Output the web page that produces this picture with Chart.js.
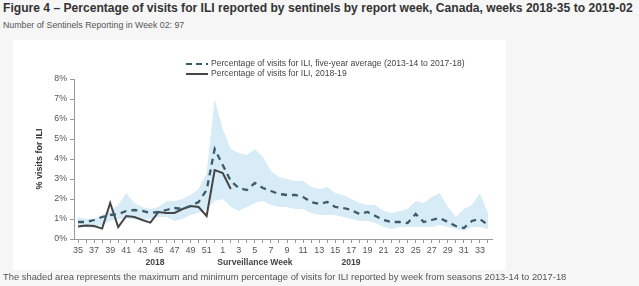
<!DOCTYPE html>
<html>
<head>
<meta charset="utf-8">
<script src="https://cdn.jsdelivr.net/npm/chart.js@4/dist/chart.umd.min.js"></script>
<style>
  body { margin: 0; width: 639px; height: 286px; background: #f6f6f6; font-family: "Liberation Sans", Arial, sans-serif; position: relative; overflow: hidden; }
  #title { position: absolute; left: 3px; top: 1px; font-size: 12.1px; font-weight: bold; color: #333; white-space: nowrap; }
  #sub { position: absolute; left: 3px; top: 20px; font-size: 8.8px; color: #555; white-space: nowrap; }
  #panel { position: absolute; left: 13px; top: 40px; width: 493px; height: 230px; background: #fff; }
  #legend { position: absolute; left: 186px; top: 58px; font-size: 8.6px; color: #444; line-height: 10px; }
  #legend div { white-space: nowrap; }
  #legend svg { vertical-align: middle; margin-right: 3px; }
  .xl { position: absolute; top: 257px; font-size: 8.6px; font-weight: bold; color: #444; white-space: nowrap; transform: translateX(-50%); }
  #caption { position: absolute; left: 3px; top: 271px; font-size: 9.4px; color: #555; white-space: nowrap; }
</style>
</head>
<body>
<div id="title">Figure 4 – Percentage of visits for ILI reported by sentinels by report week, Canada, weeks 2018-35 to 2019-02</div>
<div id="sub">Number of Sentinels Reporting in Week 02: 97</div>
<div id="panel"><canvas id="myChart" width="493" height="230"></canvas></div>
<div id="legend"></div>
<div class="xl" style="left:155px">2018</div>
<div class="xl" style="left:255px">Surveillance Week</div>
<div class="xl" style="left:351px">2019</div>
<div id="caption">The shaded area represents the maximum and minimum percentage of visits for ILI reported by week from seasons 2013-14 to 2017-18</div>
<script>
// surveillance weeks 2018-35 .. 2019-34
let weeks = ['35','36','37','38','39','40','41','42','43','44','45','46','47','48','49','50','51','52',
  '1','2','3','4','5','6','7','8','9','10','11','12','13','14','15','16','17','18','19','20',
  '21','22','23','24','25','26','27','28','29','30','31','32','33','34'];

// five-year average (2013-14 to 2017-18)
let avg = [0.85,0.85,0.95,1.1,1.2,1.25,1.4,1.45,1.4,1.3,1.35,1.45,1.55,1.5,1.65,1.85,2.45,4.5,
  3.7,2.9,2.55,2.45,2.8,2.55,2.4,2.25,2.2,2.2,2.1,1.85,1.75,1.85,1.6,1.55,1.45,1.25,1.35,1.15,
  0.95,0.85,0.85,0.8,1.25,0.85,0.95,1.05,0.85,0.65,0.55,0.9,1.0,0.7];

// 2018-19 season so far
let current = [0.62,0.68,0.65,0.52,1.8,0.6,1.15,1.1,0.95,0.82,1.35,1.3,1.3,1.5,1.65,1.6,1.15,3.45,
  3.3,2.5];

// max / min of seasons 2013-14 to 2017-18
let maxVals = [1.1,1.0,1.0,1.2,1.4,1.7,2.3,1.8,1.6,1.5,1.6,1.9,1.9,2.0,2.2,2.5,3.3,7.0,
  5.5,4.5,4.3,4.2,4.5,4.1,3.4,3.1,3.0,2.9,2.9,2.6,2.5,2.6,2.3,2.2,2.0,1.8,1.7,1.7,
  1.4,1.3,1.4,1.5,1.9,1.8,2.1,2.3,1.6,1.1,1.5,1.7,2.3,1.3];
let minVals = [0.6,0.6,0.55,0.7,0.9,1.0,1.0,1.0,1.0,1.0,1.1,1.1,0.9,1.0,1.2,1.3,1.5,1.9,
  2.0,1.6,1.4,1.6,1.8,1.9,1.7,1.6,1.6,1.5,1.5,1.3,1.2,1.2,1.2,1.1,1.0,0.9,0.9,0.8,
  0.6,0.5,0.6,0.6,0.6,0.6,0.6,0.7,0.6,0.5,0.4,0.6,0.6,0.5];

let yTicks = [0,1,2,3,4,5,6,7,8];

let bandColor = 'rgba(215, 236, 246, 1)';
let avgColor = '#3c5b6a';
let curColor = '#454545';

let ctx = document.getElementById('myChart').getContext('2d');

let iliChart = new Chart(ctx, {
    type:'line',
    data:{
        labels:weeks,
        datasets:[
            {
                label:'Percentage of visits for ILI, five-year average (2013-14 to 2017-18)',
                data:avg,
                borderColor:avgColor,
                borderWidth:2.3,
                borderDash:[6,5],
                pointRadius:0,
                fill:false,
                tension:0
            },
            {
                label:'Percentage of visits for ILI, 2018-19',
                data:current,
                borderColor:curColor,
                borderWidth:2,
                pointRadius:0,
                fill:false,
                tension:0
            },
            {
                label:'max',
                data:maxVals,
                borderWidth:0,
                pointRadius:0,
                backgroundColor:bandColor,
                fill:'+1',
                tension:0
            },
            {
                label:'min',
                data:minVals,
                borderWidth:0,
                pointRadius:0,
                backgroundColor:bandColor,
                fill:false,
                tension:0
            }
        ]
    },
    options:{
        responsive:false,
        animation:false,
        layout:{ padding:{ top:39, right:14, left:0, bottom:0 } },
        plugins:{ legend:{ display:false }, tooltip:{ enabled:false } },
        scales:{
            x:{
                offset:true,
                grid:{ drawOnChartArea:false, offset:false, tickLength:4, color:'#999' },
                border:{ color:'#999' },
                ticks:{
                    autoSkip:false, maxRotation:0, padding:2,
                    color:'#555', font:{ size:9, family:'Liberation Sans' },
                    callback:function(v, i){ return i % 2 === 0 ? weeks[i] : ''; }
                },
                afterFit:function(s){ s.height = 31; }
            },
            y:{
                min:0, max:8,
                afterBuildTicks:function(s){ s.ticks = yTicks.map(v => ({ value:v })); },
                grid:{ drawOnChartArea:false, tickLength:4, color:'#999' },
                border:{ color:'#999' },
                ticks:{ color:'#555', font:{ size:8.8, family:'Liberation Sans' }, padding:3,
                    callback:function(v){ return v + '%'; } },
                title:{ display:true, text:'% visits for ILI', color:'#333',
                    font:{ size:9, weight:'bold', family:'Liberation Sans' }, padding:{ top:21, bottom:0 } },
                afterFit:function(s){ s.width = 61; }
            }
        }
    }
});

// html legend built from the two line datasets
let legendBox = document.getElementById('legend');
iliChart.data.datasets.slice(0, 2).forEach(function(ds){
    let row = document.createElement('div');
    let dash = ds.borderDash ? 'stroke-dasharray="6,4"' : '';
    row.innerHTML = '<svg width="22" height="6"><line x1="0" y1="3" x2="22" y2="3" stroke="' + ds.borderColor +
        '" stroke-width="2" ' + dash + '/></svg>' + ds.label;
    legendBox.appendChild(row);
});
</script>
</body>
</html>
